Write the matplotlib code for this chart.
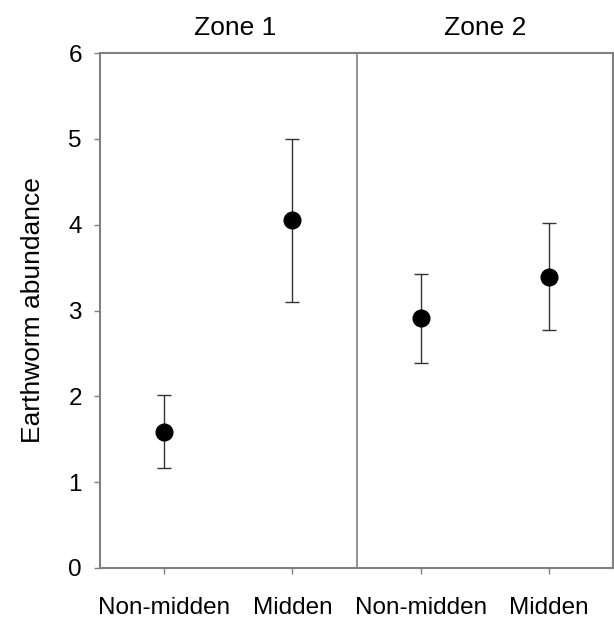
import matplotlib
matplotlib.use("Agg")
import matplotlib.pyplot as plt
import numpy as np

plt.rcParams['font.family'] = ['Liberation Sans', 'DejaVu Sans']

categories = ["Non-midden", "Midden", "Non-midden", "Midden"]
zones = ["Zone 1", "Zone 2"]
means = [1.59, 4.05, 2.91, 3.39]
upper = [2.01, 5.00, 3.42, 4.02]
lower = [1.17, 3.10, 2.39, 2.77]

x = np.arange(len(categories)) + 0.5
yerr = [np.array(means) - np.array(lower), np.array(upper) - np.array(means)]

fig = plt.figure(figsize=(6.14, 6.18), dpi=100)
ax = fig.add_axes([100/614, 1 - 568/618, 513/614, (568-53)/618])

spine_c = '#808080'
ax.errorbar(x, means, yerr=yerr, fmt='o', color='black', ms=12,
            ecolor='#333333', elinewidth=1.0, capsize=5, capthick=1.0, zorder=3)

ax.set_xlim(0, 4)
ax.set_ylim(0, 6)
ax.set_xticks(x)
ax.set_xticklabels(categories)
ax.set_yticks(range(0, 7))
ax.axvline(2, color=spine_c, lw=1.2)

for s in ax.spines.values():
    s.set_color(spine_c)
    s.set_linewidth(1.5)
ax.tick_params(axis='both', colors=spine_c, labelcolor='black', labelsize=17.5,
               direction='out', length=4, width=1)
ax.tick_params(axis='x', pad=17)
ax.tick_params(axis='y', pad=9)
ax.set_ylabel("Earthworm abundance", fontsize=19, labelpad=17)

ax.text(1.05, 1.025, zones[0], transform=ax.get_xaxis_transform(), ha='center',
        va='bottom', fontsize=19)
ax.text(3.0, 1.025, zones[1], transform=ax.get_xaxis_transform(), ha='center',
        va='bottom', fontsize=19)

fig.savefig("out.png", dpi=100)
